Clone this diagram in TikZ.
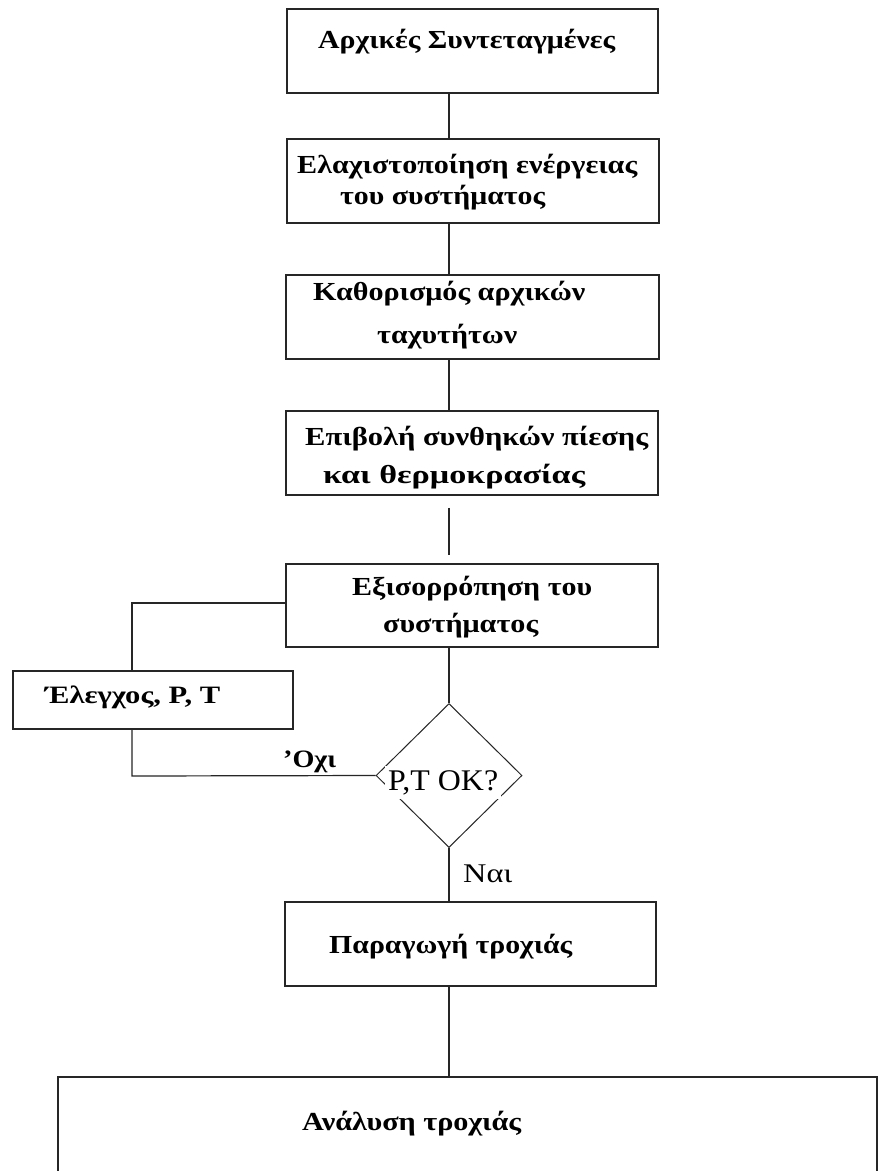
\documentclass[tikz,border=0pt]{standalone}
\usepackage{fontspec}
\setmainfont{Liberation Serif}
\usepackage{graphicx}
\usetikzlibrary{shapes.geometric}
\newcommand{\fw}[2]{\resizebox{#1pt}{\height}{#2}}
\begin{document}
\begin{tikzpicture}[x=1pt,y=-1pt,
  box/.style={draw=black!85,line width=1.6pt,rectangle,inner sep=0pt},
  conn/.style={draw=black!85,line width=1.2pt},
  txt/.style={inner sep=0pt,anchor=base west,font=\fontsize{26}{26}\selectfont\bfseries},
  rtxt/.style={inner sep=0pt,anchor=base west,font=\fontsize{26}{26}\selectfont}]
\useasboundingbox (0,0) rectangle (879,1171);
\fill[white] (0,0) rectangle (879,1171);
% boxes
\node[box,minimum width=371pt,minimum height=84pt] (b1) at (472.5,51) {};
\node[box,minimum width=372pt,minimum height=84pt] (b2) at (473,181) {};
\node[box,minimum width=373pt,minimum height=84pt] (b3) at (472.5,317) {};
\node[box,minimum width=372pt,minimum height=84pt] (b4) at (472,453) {};
\node[box,minimum width=372pt,minimum height=83pt] (b5) at (472,605.5) {};
\node[box,minimum width=280pt,minimum height=58pt] (e) at (153,700) {};
\node[draw=black!85,line width=1pt,diamond,inner sep=0pt,minimum width=146pt,minimum height=144pt] (d) at (449,775.5) {};
\node[box,minimum width=371pt,minimum height=84pt] (b6) at (470.5,944) {};
\node[box,minimum width=819pt,minimum height=113pt] (b7) at (467.5,1133.5) {};
% texts
\node[txt] (t1) at (318,48) {\fw{297}{Αρχικές Συντεταγμένες}};
\node[txt] (t2a) at (297,173) {\fw{340}{Ελαχιστοποίηση ενέργειας}};
\node[txt] (t2b) at (340,204) {\fw{205}{του συστήματος}};
\node[txt] (t3a) at (313,300) {\fw{272}{Καθορισμός αρχικών}};
\node[txt] (t3b) at (377,343) {\fw{140}{ταχυτήτων}};
\node[txt] (t4a) at (305,445) {\fw{343}{Επιβολή συνθηκών πίεσης}};
\node[txt] (t4b) at (323,483) {\fw{262}{και θερμοκρασίας}};
\node[txt] (t5a) at (352,595) {\fw{240}{Εξισορρόπηση του}};
\node[txt] (t5b) at (383,632) {\fw{155}{συστήματος}};
\node[txt,font=\fontsize{25}{25}\selectfont\bfseries] (te) at (45,703) {\fw{175}{Έλεγχος, P, T}};
\node[txt] (t6) at (329,953) {\fw{243}{Παραγωγή τροχιάς}};
\node[txt] (t7) at (302,1130) {\fw{219}{Ανάλυση τροχιάς}};
% connectors
\coordinate (k1) at (132,603);
\coordinate (k2) at (132,776);
\draw[conn] (b1.south -| d.north) -- (b2.north -| d.north);
\draw[conn] (b2.south -| d.north) -- (b3.north -| d.north);
\draw[conn] (b3.south -| d.north) -- (b4.north -| d.north);
\draw[conn,shorten <=12pt,shorten >=8pt] (b4.south -| d.north) -- (b5.north -| d.north);
\draw[conn] (b5.south -| d.north) -- (d.north);
\draw[conn] (d.south) -- (b6.north -| d.south);
\draw[conn] (b6.south -| d.south) -- (b7.north -| d.south);
\draw[conn] (b5.west |- k1) -- (k1) -- (e.north -| k1);
\draw[conn] (e.south -| k2) -- (k2) -- (d.west);
% diamond label and branch labels
\node[rtxt,fill=white,inner xsep=3pt,inner ysep=4pt,font=\fontsize{30}{30}\selectfont] (tq) at (385,790) {\fw{110}{P,T OK?}};
\node[rtxt,font=\fontsize{25}{25}\selectfont\bfseries] (tno) at (283,767) {\fw{53}{'Οχι}};
\node[rtxt,font=\fontsize{27}{27}\selectfont] (tyes) at (463,882) {\fw{49}{Ναι}};
\end{tikzpicture}
\end{document}
